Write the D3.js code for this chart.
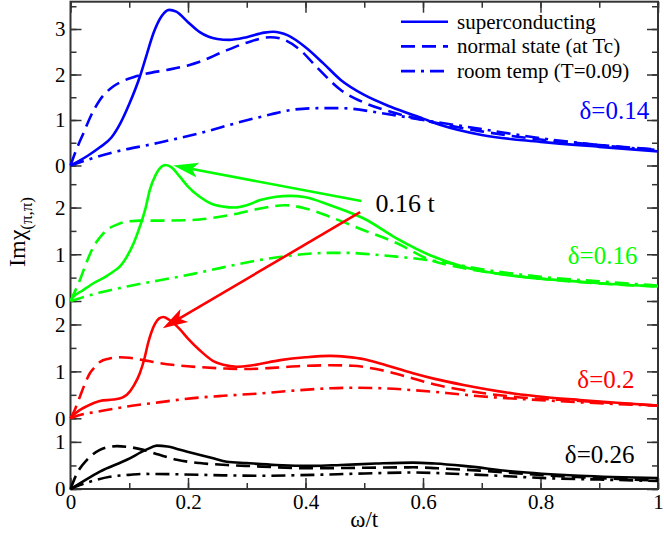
<!DOCTYPE html>
<html>
<head>
<meta charset="utf-8">
<script src="https://cdn.jsdelivr.net/npm/d3@7"></script>
<style>
  body { margin: 0; background: #fff; }
  text { font-family: "Liberation Serif", "DejaVu Serif", serif; }
</style>
</head>
<body>
<svg id="chart" width="664" height="534"></svg>
<script>
// ---- data: [omega/t, Im chi] ----
// delta = 0.14 (blue)
const blueSC = [[0,0],[0.03,0.22],[0.05,0.4],[0.07,0.62],[0.085,0.93],[0.1,1.35],[0.118,1.95],[0.13,2.45],[0.141,2.9],[0.155,3.28],[0.168,3.42],[0.18,3.38],[0.2,3.15],[0.22,2.93],[0.25,2.78],[0.27,2.76],[0.3,2.82],[0.33,2.92],[0.345,2.94],[0.37,2.86],[0.4,2.6],[0.43,2.25],[0.46,1.88],[0.5,1.55],[0.545,1.29],[0.6,1.03],[0.63,0.89],[0.7,0.67],[0.8,0.52],[0.9,0.41],[1,0.31]];
const blueN  = [[0,0],[0.01,0.35],[0.022,0.71],[0.035,1.1],[0.05,1.44],[0.072,1.73],[0.09,1.86],[0.107,1.94],[0.13,2.02],[0.164,2.1],[0.2,2.2],[0.22,2.28],[0.26,2.5],[0.3,2.7],[0.34,2.82],[0.36,2.78],[0.39,2.55],[0.42,2.15],[0.46,1.66],[0.5,1.38],[0.545,1.18],[0.6,1.0],[0.7,0.75],[0.8,0.57],[0.9,0.45],[1,0.35]];
const blueRT = [[0,0],[0.067,0.27],[0.15,0.5],[0.22,0.71],[0.29,0.96],[0.34,1.12],[0.375,1.22],[0.42,1.26],[0.46,1.26],[0.53,1.15],[0.6,1.0],[0.7,0.8],[0.8,0.6],[0.9,0.45],[1,0.34]];
// delta = 0.16 (green)
const greenSC = [[0,0],[0.005,0.09],[0.02,0.22],[0.039,0.38],[0.06,0.52],[0.073,0.63],[0.085,0.75],[0.096,0.95],[0.108,1.25],[0.118,1.59],[0.128,2.0],[0.135,2.38],[0.145,2.7],[0.152,2.84],[0.162,2.91],[0.172,2.86],[0.186,2.66],[0.2,2.45],[0.22,2.23],[0.24,2.08],[0.26,2.02],[0.28,2.0],[0.3,2.05],[0.323,2.16],[0.35,2.23],[0.374,2.25],[0.4,2.22],[0.442,2.05],[0.47,1.92],[0.5,1.76],[0.555,1.34],[0.612,0.98],[0.67,0.73],[0.72,0.6],[0.78,0.5],[0.85,0.43],[0.9,0.38],[1,0.31]];
const greenN  = [[0,0],[0.016,0.45],[0.028,0.85],[0.039,1.16],[0.05,1.36],[0.062,1.52],[0.08,1.64],[0.096,1.7],[0.12,1.72],[0.152,1.72],[0.2,1.73],[0.237,1.77],[0.28,1.86],[0.323,1.98],[0.365,2.05],[0.4,1.98],[0.442,1.8],[0.498,1.52],[0.555,1.24],[0.612,0.88],[0.67,0.7],[0.75,0.55],[0.85,0.42],[1,0.31]];
const greenRT = [[0,0],[0.016,0.06],[0.05,0.18],[0.096,0.31],[0.15,0.44],[0.209,0.58],[0.26,0.72],[0.323,0.88],[0.38,0.98],[0.44,1.03],[0.47,1.03],[0.52,0.99],[0.555,0.95],[0.63,0.84],[0.7,0.68],[0.8,0.52],[0.9,0.42],[1,0.33]];
// delta = 0.2 (red)
const redSC = [[0,0],[0.005,0.07],[0.015,0.17],[0.028,0.26],[0.05,0.37],[0.073,0.4],[0.088,0.44],[0.096,0.5],[0.108,0.7],[0.118,0.96],[0.126,1.28],[0.132,1.6],[0.144,2.02],[0.151,2.13],[0.158,2.16],[0.168,2.1],[0.186,1.9],[0.2,1.7],[0.22,1.45],[0.243,1.22],[0.26,1.14],[0.283,1.1],[0.31,1.13],[0.357,1.24],[0.4,1.3],[0.442,1.33],[0.47,1.31],[0.5,1.26],[0.527,1.17],[0.583,0.96],[0.62,0.84],[0.669,0.71],[0.754,0.53],[0.81,0.45],[0.867,0.39],[0.93,0.33],[1,0.27]];
const redN  = [[0,0],[0.008,0.2],[0.016,0.46],[0.025,0.75],[0.033,0.96],[0.042,1.1],[0.05,1.2],[0.065,1.27],[0.084,1.3],[0.1,1.29],[0.124,1.24],[0.15,1.18],[0.181,1.13],[0.22,1.09],[0.266,1.06],[0.3,1.05],[0.35,1.08],[0.4,1.12],[0.442,1.13],[0.48,1.12],[0.52,1.05],[0.583,0.85],[0.62,0.72],[0.669,0.6],[0.754,0.46],[0.867,0.37],[1,0.27]];
const redRT = [[0,0],[0.016,0.07],[0.05,0.15],[0.096,0.25],[0.15,0.34],[0.209,0.43],[0.26,0.48],[0.323,0.53],[0.38,0.59],[0.442,0.64],[0.48,0.65],[0.53,0.64],[0.583,0.6],[0.64,0.54],[0.697,0.47],[0.81,0.38],[0.9,0.32],[1,0.27]];
// delta = 0.26 (black)
const blackSC = [[0,0],[0.016,0.12],[0.05,0.37],[0.096,0.62],[0.13,0.84],[0.147,0.92],[0.165,0.9],[0.19,0.82],[0.209,0.76],[0.243,0.65],[0.266,0.58],[0.3,0.55],[0.35,0.51],[0.413,0.49],[0.46,0.51],[0.52,0.54],[0.583,0.56],[0.62,0.54],[0.669,0.49],[0.754,0.37],[0.867,0.28],[1,0.23]];
const blackN  = [[0,0],[0.011,0.33],[0.028,0.62],[0.05,0.83],[0.065,0.89],[0.079,0.91],[0.1,0.89],[0.124,0.83],[0.15,0.73],[0.181,0.62],[0.22,0.55],[0.266,0.51],[0.3,0.49],[0.413,0.44],[0.5,0.45],[0.583,0.46],[0.64,0.43],[0.697,0.39],[0.81,0.29],[0.9,0.23],[1,0.18]];
const blackRT = [[0,0],[0.016,0.085],[0.04,0.18],[0.067,0.26],[0.1,0.3],[0.124,0.32],[0.19,0.31],[0.26,0.29],[0.323,0.28],[0.413,0.3],[0.5,0.33],[0.583,0.35],[0.64,0.33],[0.697,0.3],[0.81,0.23],[0.9,0.2],[1,0.17]];

// panels from bottom to top
const panelDeltas = ["0.26", "0.2", "0.16", "0.14"];
const panelMax = [1.5, 2.5, 2.9, 3.6];
const panelSeries = [[blackSC, blackN, blackRT], [redSC, redN, redRT], [greenSC, greenN, greenRT], [blueSC, blueN, blueRT]];
const legendLabels = ["superconducting", "normal state (at Tc)", "room temp (T=0.09)"];
const xTicks = [0, 0.2, 0.4, 0.6, 0.8, 1];

// ---- layout ----
var svg = d3.select('#chart');
const plotL = 70.5, plotR = 658, plotB = 489, plotT = 1.7;
const edges = [489, 418.3, 301, 165.5, plotT];      // pixel bounds of each panel
const colors = ["#000000", "#ff0000", "#00ff00", "#0000ff"];
const dashes = [null, "14,7", "14,6,3,6"];
const deltaPos = [[0.96, 0.55], [0.96, 0.65], [0.965, 0.8], [0.985, 1.02]]; // label anchor (x, y) in panel coords

var x = d3.scaleLinear().domain([0, 1]).range([plotL, plotR]);
var ys = panelMax.map(function(m, i) {
    return d3.scaleLinear().domain([0, m]).range([edges[i], edges[i + 1]]);
});

var axes = svg.append("g").attr("class", "axes");

//x axes, bottom with labels, top only ticks
var minorX = d3.range(0, 1.001, 0.1);
axes.append("g").attr("transform", "translate(0," + plotB + ")")
    .call(d3.axisBottom(x).tickValues(minorX).tickSize(-6).tickFormat(""));
axes.append("g").attr("transform", "translate(0," + plotB + ")")
    .call(d3.axisBottom(x).tickValues(xTicks).tickSize(-11).tickPadding(5).tickFormat(d3.format("~g")));
axes.append("g").attr("transform", "translate(0," + plotT + ")")
    .call(d3.axisTop(x).tickValues(minorX).tickSize(-6).tickFormat(""));
axes.append("g").attr("transform", "translate(0," + plotT + ")")
    .call(d3.axisTop(x).tickValues(xTicks).tickSize(-11).tickFormat(""));

//y axes for every panel, left labelled, right mirrored
ys.forEach(function(y, i) {
    var all = d3.range(0, panelMax[i] - 0.05, 0.5);
    var major = all.filter(function(v) { return v % 1 === 0; });
    axes.append("g").attr("transform", "translate(" + plotL + ",0)")
        .call(d3.axisLeft(y).tickValues(all).tickSize(-6).tickFormat(""));
    axes.append("g").attr("transform", "translate(" + plotL + ",0)")
        .call(d3.axisLeft(y).tickValues(major).tickSize(-11).tickPadding(5).tickFormat(d3.format("d")));
    axes.append("g").attr("transform", "translate(" + plotR + ",0)")
        .call(d3.axisRight(y).tickValues(all).tickSize(-6).tickFormat(""));
    axes.append("g").attr("transform", "translate(" + plotR + ",0)")
        .call(d3.axisRight(y).tickValues(major).tickSize(-11).tickFormat(""));
});

axes.selectAll(".domain").remove();
axes.selectAll("g").attr("font-family", null);
axes.selectAll(".tick line").attr("stroke", "#333").attr("stroke-width", 1.5);
axes.selectAll(".tick text").attr("fill", "#000").style("font-size", "21px");

//frame
svg.append("rect")
    .attr("x", plotL).attr("y", plotT)
    .attr("width", plotR - plotL).attr("height", plotB - plotT)
    .attr("fill", "none").attr("stroke", "#333").attr("stroke-width", 2);

//curves
var curves = svg.append("g").attr("class", "curves");
panelSeries.forEach(function(group, i) {
    var line = d3.line()
        .x(function(d) { return x(d[0]); })
        .y(function(d) { return ys[i](d[1]); })
        .curve(d3.curveMonotoneX);
    group.forEach(function(series, k) {
        curves.append("path")
            .datum(series)
            .attr("d", line)
            .attr("fill", "none")
            .attr("stroke", colors[i])
            .attr("stroke-width", 2.6)
            .attr("stroke-dasharray", dashes[k]);
    });
    svg.append("text")
        .attr("x", x(deltaPos[i][0])).attr("y", ys[i](deltaPos[i][1]))
        .attr("text-anchor", "end")
        .attr("fill", colors[i])
        .style("font-size", "25px")
        .text("δ=" + panelDeltas[i]);
});

//legend
var legend = svg.append("g").attr("class", "legend");
legendLabels.forEach(function(lab, k) {
    var ly = 21.7 + k * 24.7;
    legend.append("line")
        .attr("x1", 401).attr("x2", 448).attr("y1", ly).attr("y2", ly)
        .attr("stroke", colors[3]).attr("stroke-width", 2.6)
        .attr("stroke-dasharray", dashes[k]);
    legend.append("text")
        .attr("x", 457).attr("y", ly + 7)
        .style("font-size", "21px")
        .text(lab);
});

//arrows pointing at the 0.16 t peaks
function arrow(x1, y1, x2, y2, color) {
    var dx = x2 - x1, dy = y2 - y1, len = Math.sqrt(dx * dx + dy * dy);
    var ux = dx / len, uy = dy / len, L = 25, W = 7.5, N = 19;
    svg.append("line")
        .attr("x1", x1).attr("y1", y1)
        .attr("x2", x2 - ux * N).attr("y2", y2 - uy * N)
        .attr("stroke", color).attr("stroke-width", 2.6);
    var bx = x2 - ux * L, by = y2 - uy * L;
    var pts = [[x2, y2], [bx - uy * W, by + ux * W], [x2 - ux * N, y2 - uy * N], [bx + uy * W, by - ux * W]];
    svg.append("path").attr("d", "M" + pts.join("L") + "Z").attr("fill", color);
}
arrow(x(0.495), ys[2](2.14), x(0.175), ys[2](2.9), colors[2]);
arrow(x(0.493), ys[2](1.9), x(0.157), ys[1](1.92), colors[1]);

svg.append("text")
    .attr("x", x(0.519)).attr("y", ys[2](1.9))
    .style("font-size", "26px")
    .text("0.16 t");

//axis titles
svg.append("text")
    .attr("x", x(0.5)).attr("y", 527)
    .attr("text-anchor", "middle")
    .style("font-size", "23px")
    .text("ω/t");

var yl = svg.append("text")
    .attr("transform", "translate(25,232) rotate(-90)")
    .attr("text-anchor", "middle")
    .style("font-size", "24px");
yl.append("tspan").text("Imχ");
yl.append("tspan").attr("dy", 7).style("font-size", "17px").text("(π,π)");
</script>
</body>
</html>
